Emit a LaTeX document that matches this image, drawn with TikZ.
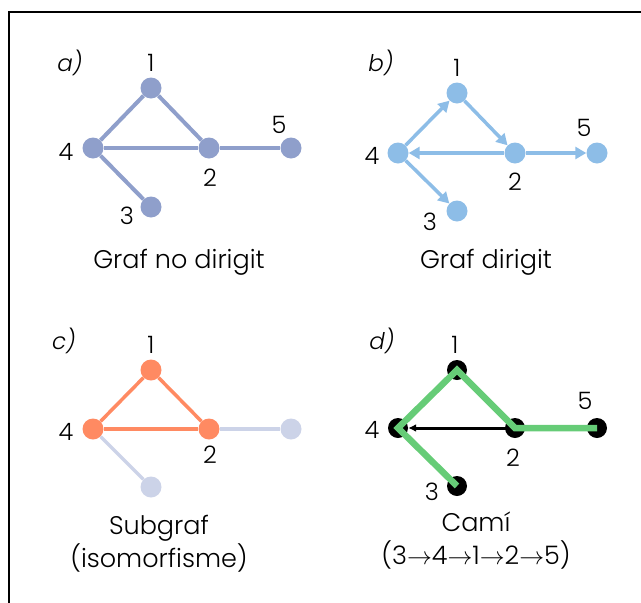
\documentclass[tikz,border=0pt]{standalone}
\usepackage{fontspec}
\setmainfont{Poppins Light}
\usetikzlibrary{arrows.meta}
\definecolor{cA}{HTML}{8F9FCB}
\definecolor{cB}{HTML}{8DBDE7}
\definecolor{cC}{HTML}{FF8A62}
\definecolor{cCf}{HTML}{CCD3E8}
\definecolor{cD}{HTML}{66CC77}
\tikzset{
  vert/.style={circle, inner sep=0pt, minimum size=21pt},
  lbl/.style={inner sep=0pt, font=\fontsize{24}{26}\selectfont},
  panel/.style={inner sep=0pt, font=\fontsize{23}{26}\selectfont\itshape},
  captxt/.style={inner sep=0pt, align=center, font=\fontsize{25.5}{33}\selectfont},
  edgeA/.style={draw=cA, line width=4pt},
  edgeB/.style={draw=cB, line width=3.5pt, -{Triangle[length=11pt,width=12pt]}},
  edgeC/.style={draw=cC, line width=3.5pt},
  edgeCf/.style={draw=cCf, line width=3.5pt},
  pathD/.style={draw=cD, line width=6.5pt, line join=miter, line cap=butt},
}
\begin{document}
\begin{tikzpicture}[x=1pt,y=-1pt]
\useasboundingbox (0,0) rectangle (641,603);
\draw[line width=1.6pt] (9,603) -- (9,12) -- (641,12);

% ---------- a ----------
\node[vert, fill=cA] (a1) at (151,88) {};
\node[vert, fill=cA] (a4) at (93,148) {};
\node[vert, fill=cA] (a2) at (209,148) {};
\node[vert, fill=cA] (a5) at (291,148) {};
\node[vert, fill=cA] (a3) at (151,207) {};
\draw[edgeA] (a4) -- (a1);
\draw[edgeA] (a1) -- (a2);
\draw[edgeA] (a4) -- (a2);
\draw[edgeA] (a2) -- (a5);
\draw[edgeA] (a4) -- (a3);
\node[panel] (la) at (70,63) {a)};
\node[lbl] (la1) at (151,63) {1};
\node[lbl] (la4) at (66,152) {4};
\node[lbl] (la2) at (210,178) {2};
\node[lbl] (la5) at (279,125) {5};
\node[lbl] (la3) at (127,216) {3};
\node[captxt] (ca) at (179,262) {Graf no dirigit};

% ---------- b ----------
\node[vert, fill=cB] (b1) at (457,93) {};
\node[vert, fill=cB] (b4) at (398,153) {};
\node[vert, fill=cB] (b2) at (515,153) {};
\node[vert, fill=cB] (b5) at (597,153) {};
\node[vert, fill=cB] (b3) at (457,211) {};
\draw[edgeB] (b4) -- (b1);
\draw[edgeB] (b1) -- (b2);
\draw[edgeB] (b2) -- (b4);
\draw[edgeB] (b2) -- (b5);
\draw[edgeB] (b4) -- (b3);
\node[panel] (lb) at (381,63) {b)};
\node[lbl] (lb1) at (457,68) {1};
\node[lbl] (lb4) at (372,156) {4};
\node[lbl] (lb2) at (515,182) {2};
\node[lbl] (lb5) at (584,128) {5};
\node[lbl] (lb3) at (430,222) {3};
\node[captxt] (cb) at (486,262) {Graf dirigit};

% ---------- c ----------
\node[vert, fill=cC] (c1) at (151,370) {};
\node[vert, fill=cC] (c4) at (93,429) {};
\node[vert, fill=cC] (c2) at (209,429) {};
\node[vert, fill=cCf] (c5) at (291,429) {};
\node[vert, fill=cCf] (c3) at (151,487) {};
\draw[edgeCf] (c2) -- (c5);
\draw[edgeCf] (c4) -- (c3);
\draw[edgeC] (c4) -- (c1);
\draw[edgeC] (c1) -- (c2);
\draw[edgeC] (c4) -- (c2);
\node[panel] (lc) at (64,341) {c)};
\node[lbl] (lc1) at (151,345) {1};
\node[lbl] (lc4) at (66,432) {4};
\node[lbl] (lc2) at (210,455) {2};
\node[captxt] (cc) at (159,544) {Subgraf\\(isomorfisme)};

% ---------- d ----------
\node[vert, fill=black, minimum size=20pt] (d1) at (457,370) {};
\node[vert, fill=black, minimum size=20pt] (d4) at (398,428) {};
\node[vert, fill=black, minimum size=20pt] (d2) at (515,428) {};
\node[vert, fill=black, minimum size=20pt] (d5) at (597,428) {};
\node[vert, fill=black, minimum size=20pt] (d3) at (457,486) {};
\draw[line width=3pt, -{Latex[length=8pt,width=8pt]}] (d2.center) -- (d4.east);
\draw[pathD] (d3.center) -- (d4.center) -- (d1.center) -- (d2.center) -- (d5.center);
\node[panel] (ld) at (382,341) {d)};
\node[lbl] (ld1) at (455,345) {1};
\node[lbl] (ld4) at (372,430) {4};
\node[lbl] (ld2) at (513,458) {2};
\node[lbl] (ld5) at (585,401) {5};
\node[lbl] (ld3) at (432,492) {3};
\node[captxt] (cd) at (476,541) {Camí\\(3$\rightarrow$4$\rightarrow$1$\rightarrow$2$\rightarrow$5)};
\end{tikzpicture}
\end{document}
